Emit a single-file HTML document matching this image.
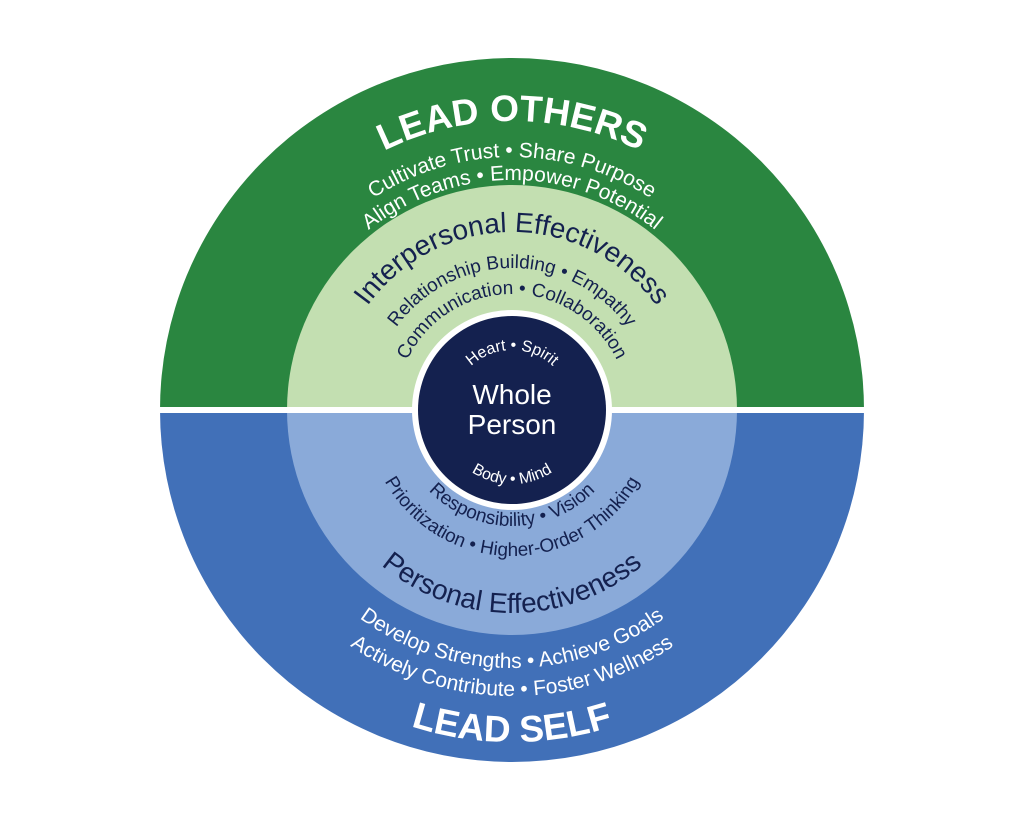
<!DOCTYPE html>
<html><head><meta charset="utf-8"><style>
html,body{margin:0;padding:0;background:#fff;}
svg{display:block;}
text{font-family:"Liberation Sans",sans-serif;}
</style></head><body>
<svg width="1024" height="817" viewBox="0 0 1024 817" xmlns="http://www.w3.org/2000/svg">
<defs>
<path id="t289" d="M223,410 A289,289 0 0 1 801,410"/>
<path id="t253" d="M259,410 A253,253 0 0 1 765,410"/>
<path id="t230" d="M282,410 A230,230 0 0 1 742,410"/>
<path id="t178" d="M334,410 A178,178 0 0 1 690,410"/>
<path id="t142" d="M370,410 A142,142 0 0 1 654,410"/>
<path id="t116" d="M396,410 A116,116 0 0 1 628,410"/>
<path id="t60" d="M452,410 A60,60 0 0 1 572,410"/>
<path id="b74" d="M438,410 A74,74 0 0 0 586,410"/>
<path id="b116" d="M396,410 A116,116 0 0 0 628,410"/>
<path id="b146" d="M366,410 A146,146 0 0 0 658,410"/>
<path id="b203" d="M309,410 A203,203 0 0 0 715,410"/>
<path id="b258" d="M254,410 A258,258 0 0 0 770,410"/>
<path id="b286" d="M226,410 A286,286 0 0 0 798,410"/>
<path id="b332" d="M180,410 A332,332 0 0 0 844,410"/>
</defs>
<path d="M160,410 A352,352 0 0 1 864,410 Z" fill="#2a8640"/>
<path d="M160,410 A352,352 0 0 0 864,410 Z" fill="#4170b8"/>
<path d="M287,410 A225,225 0 0 1 737,410 Z" fill="#c3dfb1"/>
<path d="M287,410 A225,225 0 0 0 737,410 Z" fill="#8aaad9"/>
<rect x="158" y="407" width="708" height="6" fill="#fff"/>
<circle cx="512" cy="410" r="100" fill="#fff"/>
<circle cx="512" cy="410" r="94" fill="#14214f"/>
<g fill="#fff">
<text font-size="37" font-weight="bold"><textPath href="#t289" startOffset="50%" text-anchor="middle">LEAD OTHERS</textPath></text>
<text font-size="21"><textPath href="#t253" startOffset="50%" text-anchor="middle">Cultivate Trust  •  Share Purpose</textPath></text>
<text font-size="21"><textPath href="#t230" startOffset="50%" text-anchor="middle">Align Teams  •  Empower Potential</textPath></text>
<text font-size="16"><textPath href="#t60" startOffset="50%" text-anchor="middle">Heart • Spirit</textPath></text>
<text font-size="16"><textPath href="#b74" startOffset="50%" text-anchor="middle">Body • Mind</textPath></text>
<text x="512" y="404" font-size="28" text-anchor="middle">Whole</text>
<text x="512" y="434" font-size="28" text-anchor="middle">Person</text>
<text font-size="21"><textPath href="#b258" startOffset="50%" text-anchor="middle">Develop Strengths  •  Achieve Goals</textPath></text>
<text font-size="21"><textPath href="#b286" startOffset="50%" text-anchor="middle">Actively Contribute • Foster Wellness</textPath></text>
<text font-size="37" font-weight="bold"><textPath href="#b332" startOffset="50%" text-anchor="middle">LEAD SELF</textPath></text>
</g>
<g fill="#14214f">
<text font-size="28"><textPath href="#t178" startOffset="50%" text-anchor="middle">Interpersonal Effectiveness</textPath></text>
<text font-size="19"><textPath href="#t142" startOffset="50%" text-anchor="middle">Relationship Building • Empathy</textPath></text>
<text font-size="19"><textPath href="#t116" startOffset="50%" text-anchor="middle">Communication • Collaboration</textPath></text>
<text font-size="19"><textPath href="#b116" startOffset="50%" text-anchor="middle">Responsibility • Vision</textPath></text>
<text font-size="19"><textPath href="#b146" startOffset="50%" text-anchor="middle">Prioritization • Higher-Order Thinking</textPath></text>
<text font-size="28"><textPath href="#b203" startOffset="50%" text-anchor="middle">Personal Effectiveness</textPath></text>
</g>
</svg>
</body></html>
